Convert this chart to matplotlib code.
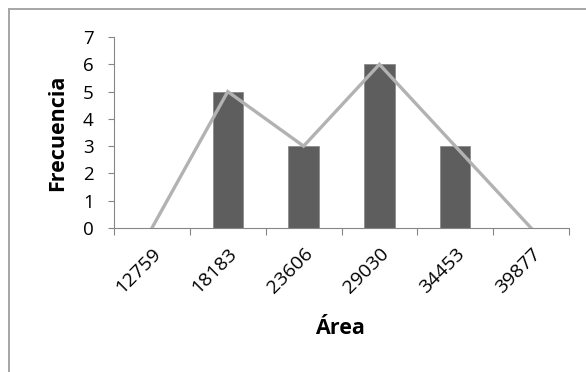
import numpy as np
import matplotlib.pyplot as plt
from matplotlib.lines import Line2D

# Histogram bins (Área) and frequencies
clases = ["12759", "18183", "23606", "29030", "34453", "39877"]
frecuencia = [0, 5, 3, 6, 3, 0]

plt.rcParams['font.family'] = ['Open Sans', 'DejaVu Sans']

fig = plt.figure(figsize=(5.86, 3.72), dpi=100)
ax = fig.add_axes([114 / 586, 1 - 228 / 372, (569 - 114) / 586, (228 - 37) / 372])

x = np.arange(len(clases))
ax.bar(x, frecuencia, width=0.4, color="#5e5e5e", edgecolor="#8c8c8c", linewidth=0.6, zorder=2)
ax.plot(x, frecuencia, color="#b2b2b2", linewidth=2.4, zorder=3, solid_joinstyle="miter")

ax.set_xlim(-0.5, len(clases) - 0.5)
ax.set_ylim(0, 7)
ax.set_yticks(range(8))
ax.tick_params(axis="y", labelsize=13.5, length=4.5, color="#868686", pad=10)

# boundaries get tick marks, centres get the labels
ax.set_xticks(np.arange(-0.5, len(clases)), labels=[])
ax.set_xticks(x, labels=clases, minor=True)
ax.tick_params(axis="x", which="major", length=5, color="#868686")
ax.tick_params(axis="x", which="minor", length=0, labelsize=14, pad=12)
for lbl in ax.get_xticklabels(minor=True):
    lbl.set_rotation(45)
    lbl.set_ha("right")
    lbl.set_va("top")
    lbl.set_rotation_mode("anchor")

for s in ["top", "right"]:
    ax.spines[s].set_visible(False)
for s in ["left", "bottom"]:
    ax.spines[s].set_color("#868686")

ax.set_ylabel("Frecuencia", fontsize=15.5, fontweight="bold", va="center")
ax.yaxis.set_label_coords((58 - 114) / 455, 0.5)
ax.set_xlabel("Área", fontsize=15.5, fontweight="bold", va="center")
ax.xaxis.set_label_coords((340 - 114) / 455, (228 - 328) / 191)

# chart border
fig.add_artist(Line2D([8.5 / 586, 8.5 / 586], [0, 1 - 8.5 / 372], color="#a6a6a6", lw=1.4))
fig.add_artist(Line2D([8.5 / 586, 1], [1 - 8.5 / 372, 1 - 8.5 / 372], color="#a6a6a6", lw=1.4))

fig.savefig("out.png", dpi=100, facecolor="white")
